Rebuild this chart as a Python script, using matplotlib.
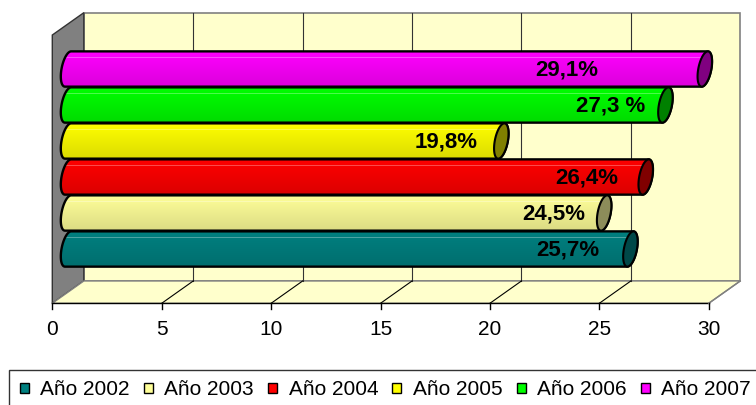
import numpy as np
import matplotlib
matplotlib.use('Agg')
from matplotlib import pyplot as plt
from matplotlib.patches import Polygon, Patch
from matplotlib.colors import to_rgb

plt.rcParams['font.family'] = ['Liberation Sans', 'DejaVu Sans']

# data
years = ['Año 2002', 'Año 2003', 'Año 2004', 'Año 2005', 'Año 2006', 'Año 2007']
values = [25.7, 24.5, 26.4, 19.8, 27.3, 29.1]
labels = ['25,7%', '24,5%', '26,4%', '19,8%', '27,3 %', '29,1%']
ticks = [0, 5, 10, 15, 20, 25, 30]

face_colors = ['#008080', '#FFFF99', '#FF0000', '#FFFF00', '#00FF00', '#FF00FF']
cap_colors = ['#004848', '#8C8C5A', '#800000', '#808000', '#008000', '#800080']
label_shift = [2.85, 2.3, 2.7, 2.5, 2.5, 6.3]

# oblique 3d box geometry (value units / category units)
DX, DY = 1.44, 0.62
FLOOR, TOP = -1.508, 5.944
XMAX = 30
BAR_DX = DX / 2
A, SH, B = 0.30, 0.14, 0.49

fig = plt.figure(figsize=(7.56, 4.05), dpi=100)
ax = fig.add_axes([0, 0, 1, 1])
ax.set_xlim(-2.390, 32.16)
ax.set_ylim(-4.333, 6.917)
ax.axis('off')

# walls
back = Polygon([(DX, FLOOR + DY), (XMAX + DX, FLOOR + DY), (XMAX + DX, TOP + DY), (DX, TOP + DY)],
               facecolor='#FFFFCC', edgecolor='#808080', lw=1.2, zorder=1)
side = Polygon([(0, FLOOR), (0, TOP), (DX, TOP + DY), (DX, FLOOR + DY)],
               facecolor='#808080', edgecolor='#333333', lw=1.0, zorder=1)
floor = Polygon([(0, FLOOR), (XMAX, FLOOR), (XMAX + DX, FLOOR + DY), (DX, FLOOR + DY)],
                facecolor='#FFFFCC', edgecolor='#808080', lw=1.0, zorder=1)
for p in (back, side, floor):
    ax.add_patch(p)
ax.plot([0, XMAX], [FLOOR, FLOOR], color='black', lw=1.0, zorder=2)
ax.plot([XMAX, XMAX + DX], [FLOOR, FLOOR + DY], color='#808080', lw=1.0, zorder=2)

for t in ticks:
    if 0 < t < XMAX:
        ax.plot([t + DX, t + DX], [FLOOR + DY, TOP + DY], color='#333333', lw=0.8, zorder=1.5)
        ax.plot([t, t + DX], [FLOOR, FLOOR + DY], color='black', lw=0.8, zorder=1.5)
    ax.plot([t, t], [FLOOR, FLOOR - 0.17], color='black', lw=1.0, zorder=2)
    ax.text(t, -2.222, str(t), ha='center', va='center', fontsize=15)


def cap_pts(cx, cy, t0, t1, n=30):
    t = np.linspace(t0, t1, n)
    return np.column_stack([cx + A * np.cos(t) + SH * np.sin(t), cy + B * np.sin(t)])


for i, (v, fc, cc, lab, sh) in enumerate(zip(values, face_colors, cap_colors, labels, label_shift)):
    x0, x1 = BAR_DX, v + BAR_DX
    body_pts = np.vstack([cap_pts(x0, i, np.pi / 2, 3 * np.pi / 2),
                          cap_pts(x1, i, -np.pi / 2, np.pi / 2)])
    body = Polygon(body_pts, closed=True, facecolor='none', edgecolor='black', lw=1.7, zorder=4 + i)
    ax.add_patch(body)

    # cylinder shading
    base = np.array(to_rgb(fc))
    n = 36
    k = np.arange(n)[:, None]
    grad = base * (1 - 0.14 * k / (n - 1))
    grad[6] = grad[6] * 0.7 + 0.3
    im = ax.imshow(grad[:, None, :], extent=(x0 - 1, x1 + 1, i - B, i + B), origin='upper',
                   aspect='auto', interpolation='nearest', zorder=3 + i)
    im.set_clip_path(body)

    cap = Polygon(cap_pts(x1, i, 0, 2 * np.pi, 60), closed=True, facecolor=cc,
                  edgecolor='black', lw=1.5, zorder=4.5 + i)
    ax.add_patch(cap)

    ax.text(v - sh + BAR_DX, i - 0.04, lab, ha='center', va='center', fontsize=16,
            fontweight='bold', zorder=20)

handles = [Patch(facecolor=c, edgecolor='black', lw=1.0) for c in face_colors]
leg = fig.legend(handles, years, loc='upper left', bbox_to_anchor=(9.5 / 756, 1 - 370 / 405),
                 ncol=6, fontsize=15, frameon=True, fancybox=False, edgecolor='black',
                 handlelength=0.43, handleheight=0.43, handletextpad=0.55, columnspacing=0.68,
                 borderpad=0.5, borderaxespad=0)
leg.get_frame().set_linewidth(1.0)

fig.savefig('out.png', dpi=100)
